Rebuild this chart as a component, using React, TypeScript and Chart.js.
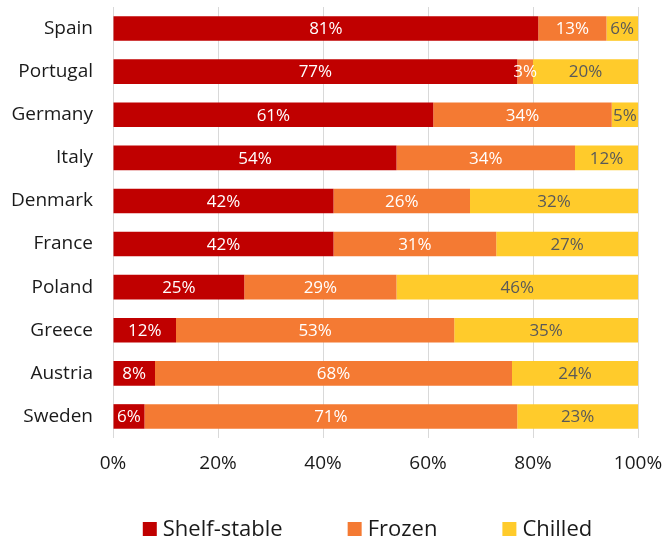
import React, { useEffect, useRef } from "react";
import { Chart, registerables } from "chart.js";

Chart.register(...registerables);

const categories = ["Spain", "Portugal", "Germany", "Italy", "Denmark", "France", "Poland", "Greece", "Austria", "Sweden"];
const shelfStable = [81, 77, 61, 54, 42, 42, 25, 12, 8, 6];
const frozen = [13, 3, 34, 34, 26, 31, 29, 53, 68, 71];
const chilled = [6, 20, 5, 12, 32, 27, 46, 35, 24, 23];
const seriesNames = ["Shelf-stable", "Frozen", "Chilled"];
const seriesColors = ["#C00000", "#F47A33", "#FFCB2B"];
const labelColors = ["#FFFFFF", "#FFFFFF", "#595959"];

const FONT = "'Open Sans', sans-serif";

const dataLabelPlugin = {
  id: "dataLabels",
  afterDatasetsDraw(chart: any) {
    const ctx = chart.ctx;
    ctx.save();
    ctx.font = `17px ${FONT}`;
    ctx.textAlign = "center";
    ctx.textBaseline = "middle";
    chart.data.datasets.forEach((ds: any, di: number) => {
      const meta = chart.getDatasetMeta(di);
      meta.data.forEach((el: any, i: number) => {
        const v = ds.data[i];
        const cx = (el.x + el.base) / 2;
        ctx.fillStyle = labelColors[di];
        ctx.fillText(`${v}%`, cx, el.y + 1);
      });
    });
    ctx.restore();
  },
};

const legendPlugin = {
  id: "customLegend",
  afterDraw(chart: any) {
    const ctx = chart.ctx;
    const area = chart.chartArea;
    ctx.save();
    ctx.font = `22px ${FONT}`;
    ctx.textBaseline = "alphabetic";
    ctx.textAlign = "left";
    const box = 14;
    const gapBoxText = 6;
    const gapItems = 65;
    const widths = seriesNames.map((n) => box + gapBoxText + ctx.measureText(n).width);
    const total = widths.reduce((a, b) => a + b, 0) + gapItems * (widths.length - 1);
    let x = (area.left + area.right) / 2 - 8 - total / 2;
    const baseline = 536;
    seriesNames.forEach((n, i) => {
      ctx.fillStyle = seriesColors[i];
      ctx.fillRect(x, baseline - box, box, box);
      ctx.fillStyle = "#1a1a1a";
      ctx.fillText(n, x + box + gapBoxText, baseline);
      x += widths[i] + gapItems;
    });
    ctx.restore();
  },
};

export default function App() {
  const ref = useRef<HTMLCanvasElement | null>(null);
  useEffect(() => {
    if (!ref.current) return;
    const chart = new Chart(ref.current, {
      type: "bar",
      data: {
        labels: categories,
        datasets: [
          { label: seriesNames[0], data: shelfStable, backgroundColor: seriesColors[0] },
          { label: seriesNames[1], data: frozen, backgroundColor: seriesColors[1] },
          { label: seriesNames[2], data: chilled, backgroundColor: seriesColors[2] },
        ],
      },
      options: {
        indexAxis: "y",
        animation: false,
        responsive: true,
        maintainAspectRatio: false,
        datasets: { bar: { categoryPercentage: 1, barPercentage: 0.57 } },
        layout: { padding: { left: 0, right: 26, top: 7, bottom: 65 } },
        plugins: { legend: { display: false }, tooltip: { enabled: false } },
        scales: {
          x: {
            type: "linear",
            stacked: true,
            min: 0,
            max: 100,
            grid: { color: "#D9D9D9", drawTicks: false, lineWidth: 1 },
            border: { display: false },
            ticks: {
              stepSize: 20,
              padding: 14,
              color: "#1a1a1a",
              font: { family: FONT, size: 19 },
              callback: (v: any) => `${v}%`,
            },
            afterFit: (s: any) => {
              s.height = 35;
              s.paddingLeft = 0;
              s.paddingRight = 0;
            },
          },
          y: {
            type: "category",
            stacked: true,
            grid: { display: false, drawTicks: false },
            border: { display: false },
            ticks: { padding: 20, color: "#1a1a1a", font: { family: FONT, size: 19 } },
            afterFit: (s: any) => {
              s.width = 113;
              s.paddingTop = 0;
              s.paddingBottom = 0;
            },
          },
        },
      },
      plugins: [dataLabelPlugin, legendPlugin],
    });
    return () => chart.destroy();
  }, []);
  return (
    <div style={{ position: "fixed", left: 0, top: 0, width: 664, height: 538, background: "#fff" }}>
      <canvas ref={ref} />
    </div>
  );
}
